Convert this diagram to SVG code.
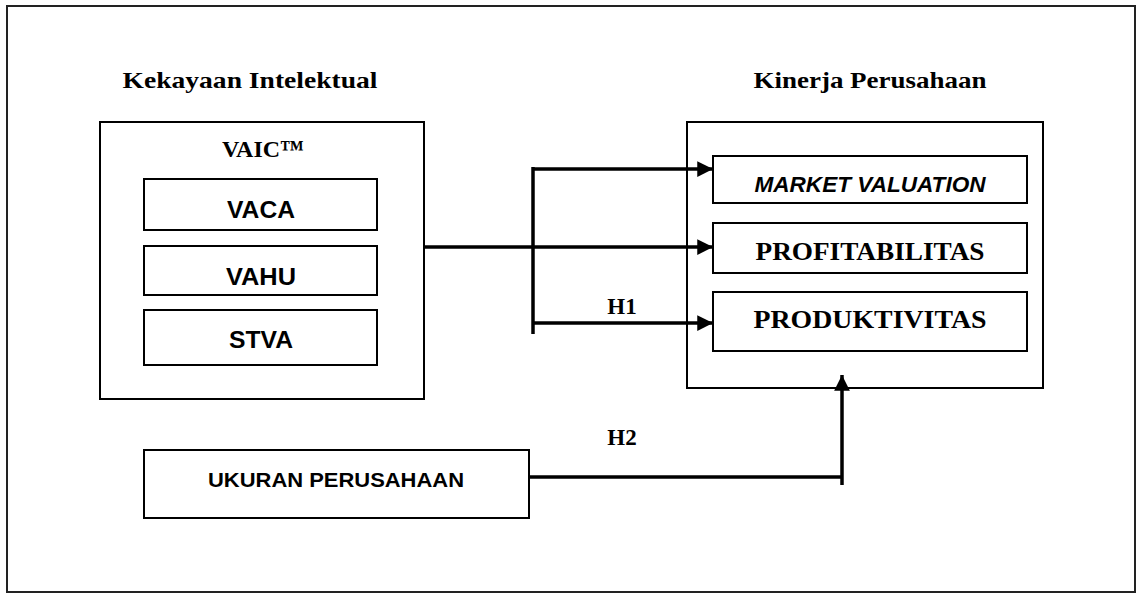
<svg xmlns="http://www.w3.org/2000/svg" width="1137" height="593" viewBox="0 0 1137 593">
<defs>
<style>
.box{fill:#fff;stroke:#000;stroke-width:2}
.frame{fill:#fff;stroke:#222;stroke-width:2}
.serif{font-family:"Liberation Serif","Times New Roman",serif;font-weight:bold;fill:#000}
.sans{font-family:"Liberation Sans",Arial,sans-serif;font-weight:bold;fill:#000}
.conn{fill:none;stroke:#000;stroke-width:3.5}
</style>
<marker id="ah" viewBox="0 0 10 10" refX="10" refY="5" markerWidth="4.5" markerHeight="4.5" markerUnits="strokeWidth" orient="auto">
<path d="M0,0 L10,5 L0,10 Z" fill="#000"/>
</marker>
</defs>
<rect x="7" y="6" width="1128" height="586" class="frame"/>
<text x="250" y="88" text-anchor="middle" class="serif" font-size="23" textLength="255" lengthAdjust="spacingAndGlyphs">Kekayaan Intelektual</text>
<text x="870" y="88" text-anchor="middle" class="serif" font-size="23" textLength="233" lengthAdjust="spacingAndGlyphs">Kinerja Perusahaan</text>
<g id="vaic">
<rect x="100" y="122" width="324" height="277" class="box"/>
<text x="263" y="157" text-anchor="middle" class="serif" font-size="24">VAIC™</text>
</g>
<g id="vaca">
<rect x="144" y="179" width="233" height="51" class="box"/>
<text x="261" y="218" text-anchor="middle" class="sans" font-size="23" textLength="68" lengthAdjust="spacingAndGlyphs">VACA</text>
</g>
<g id="vahu">
<rect x="144" y="246" width="233" height="49" class="box"/>
<text x="261" y="285" text-anchor="middle" class="sans" font-size="23" textLength="70" lengthAdjust="spacingAndGlyphs">VAHU</text>
</g>
<g id="stva">
<rect x="144" y="310" width="233" height="55" class="box"/>
<text x="261" y="348" text-anchor="middle" class="sans" font-size="23" textLength="64" lengthAdjust="spacingAndGlyphs">STVA</text>
</g>
<g id="kinerja">
<rect x="687" y="122" width="356" height="266" class="box"/>
</g>
<g id="market">
<rect x="713" y="156" width="314" height="47" class="box"/>
<text x="870" y="192" text-anchor="middle" class="sans" font-style="italic" font-size="22" textLength="231" lengthAdjust="spacingAndGlyphs">MARKET VALUATION</text>
</g>
<g id="profit">
<rect x="713" y="223" width="314" height="50" class="box"/>
<text x="870" y="260" text-anchor="middle" class="serif" font-size="26" textLength="229" lengthAdjust="spacingAndGlyphs">PROFITABILITAS</text>
</g>
<g id="produk">
<rect x="713" y="292" width="314" height="59" class="box"/>
<text x="870" y="328" text-anchor="middle" class="serif" font-size="26" textLength="233" lengthAdjust="spacingAndGlyphs">PRODUKTIVITAS</text>
</g>
<g id="ukuran">
<rect x="144" y="450" width="385" height="68" class="box"/>
<text x="336" y="487" text-anchor="middle" class="sans" font-size="21" textLength="256" lengthAdjust="spacingAndGlyphs">UKURAN PERUSAHAAN</text>
</g>
<g id="connectors">
<line x1="424" y1="247" x2="713" y2="247" class="conn" marker-end="url(#ah)"/>
<line x1="533" y1="167" x2="533" y2="334" class="conn" stroke-width="4"/>
<line x1="533" y1="169" x2="713" y2="169" class="conn" marker-end="url(#ah)"/>
<line x1="533" y1="323" x2="713" y2="323" class="conn" marker-end="url(#ah)"/>
<text x="622" y="314" text-anchor="middle" class="serif" font-size="23">H1</text>
<line x1="529" y1="477" x2="842" y2="477" class="conn" stroke-width="4"/>
<line x1="842" y1="485" x2="842" y2="375" class="conn" stroke-width="4" marker-end="url(#ah)"/>
<text x="622" y="445" text-anchor="middle" class="serif" font-size="23">H2</text>
</g>
</svg>
